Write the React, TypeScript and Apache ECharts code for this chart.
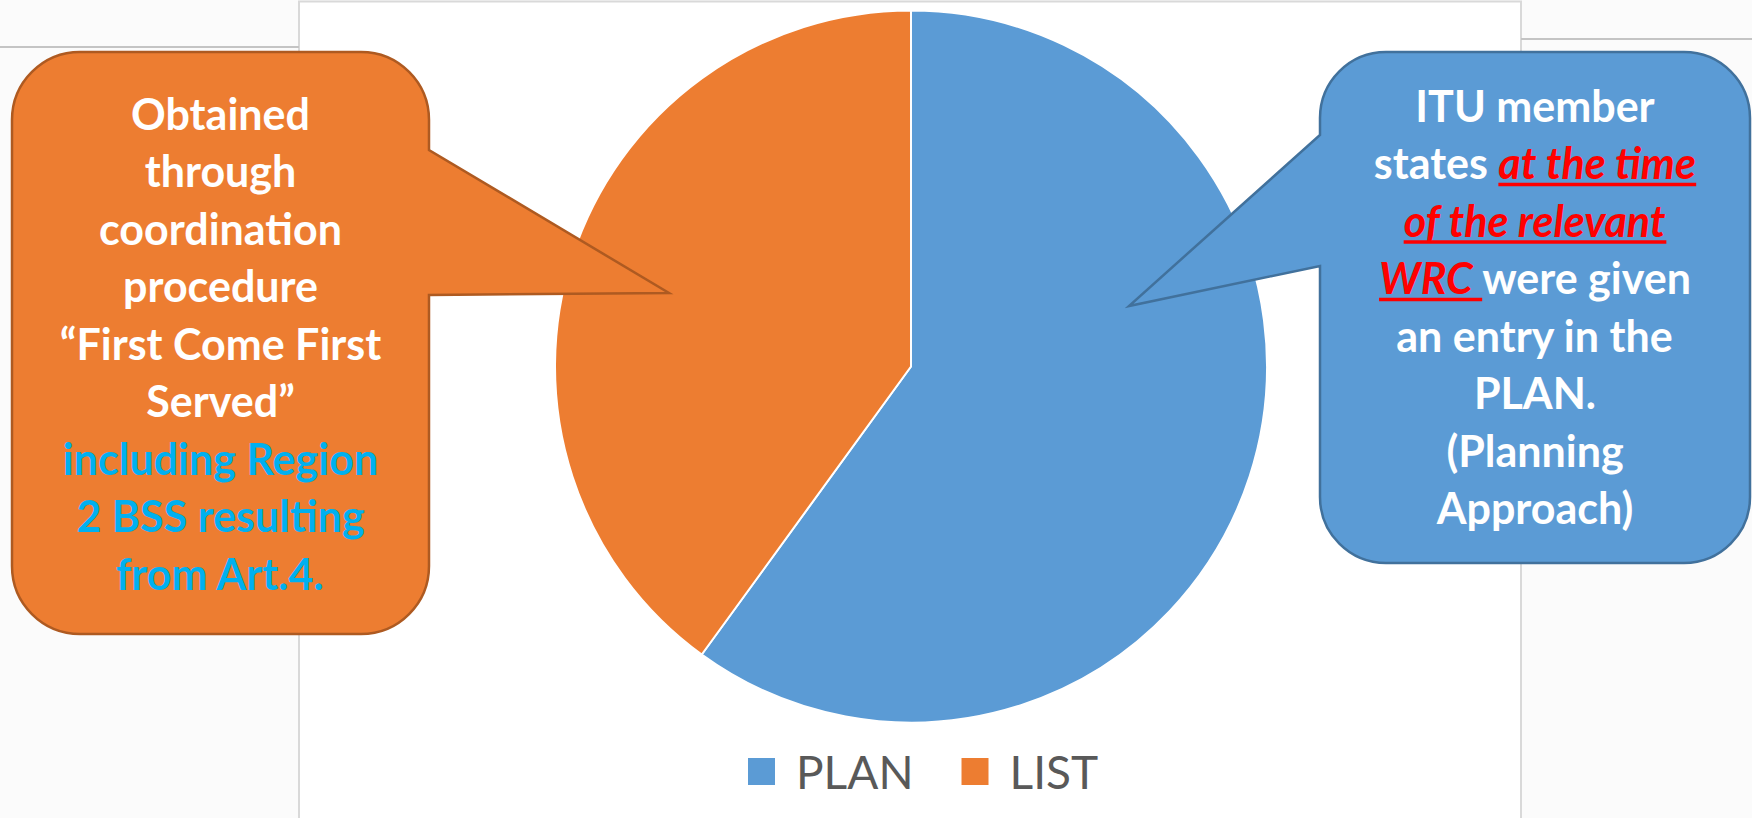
import React, { useEffect, useRef } from 'react';
import * as echarts from 'echarts';

// ---- data ----
const categories = ['PLAN', 'LIST'];
const shares = [60, 40];
const sliceColors = ['#5B9BD5', '#ED7D31'];

type Seg = { t: string; c: string; i?: boolean; u?: boolean };
const WHITE = '#FFFFFF';
const CYAN = '#00B0F0';
const RED = '#FF0000';

const leftLines: Seg[][] = [
  [{ t: 'Obtained', c: WHITE }],
  [{ t: 'through', c: WHITE }],
  [{ t: 'coordination', c: WHITE }],
  [{ t: 'procedure', c: WHITE }],
  [{ t: '\u201CFirst Come First', c: WHITE }],
  [{ t: 'Served\u201D', c: WHITE }],
  [{ t: 'including Region', c: CYAN }],
  [{ t: '2 BSS resulting', c: CYAN }],
  [{ t: 'from Art.4.', c: CYAN }],
];

const rightLines: Seg[][] = [
  [{ t: 'ITU member', c: WHITE }],
  [{ t: 'states ', c: WHITE }, { t: 'at the time', c: RED, i: true, u: true }],
  [{ t: 'of the relevant', c: RED, i: true, u: true }],
  [{ t: 'WRC ', c: RED, i: true, u: true }, { t: 'were given', c: WHITE }],
  [{ t: 'an entry in the', c: WHITE }],
  [{ t: 'PLAN.', c: WHITE }],
  [{ t: '(Planning', c: WHITE }],
  [{ t: 'Approach)', c: WHITE }],
];

// ---- layout ----
const LB = { x0: 12, x1: 429, y0: 52, y1: 634, r: 68, pTop: 150, tipX: 669, tipY: 293, pBot: 295 };
const RB = { x0: 1320, x1: 1750, y0: 52, y1: 563, r: 66, pTop: 135, tipX: 1129, tipY: 306, pBot: 266 };

const leftPath = (() => {
  const { x0, x1, y0, y1, r, pTop, tipX, tipY, pBot } = LB;
  return `M${x0 + r} ${y0} L${x1 - r} ${y0} A${r} ${r} 0 0 1 ${x1} ${y0 + r} L${x1} ${pTop} L${tipX} ${tipY} L${x1} ${pBot} L${x1} ${y1 - r} A${r} ${r} 0 0 1 ${x1 - r} ${y1} L${x0 + r} ${y1} A${r} ${r} 0 0 1 ${x0} ${y1 - r} L${x0} ${y0 + r} A${r} ${r} 0 0 1 ${x0 + r} ${y0} Z`;
})();
const rightPath = (() => {
  const { x0, x1, y0, y1, r, pTop, tipX, tipY, pBot } = RB;
  return `M${x0 + r} ${y0} L${x1 - r} ${y0} A${r} ${r} 0 0 1 ${x1} ${y0 + r} L${x1} ${y1 - r} A${r} ${r} 0 0 1 ${x1 - r} ${y1} L${x0 + r} ${y1} A${r} ${r} 0 0 1 ${x0} ${y1 - r} L${x0} ${pBot} L${tipX} ${tipY} L${x0} ${pTop} L${x0} ${y0 + r} A${r} ${r} 0 0 1 ${x0 + r} ${y0} Z`;
})();

echarts.graphic.registerShape('calloutLeft', echarts.graphic.extendPath(leftPath, {}));
echarts.graphic.registerShape('calloutRight', echarts.graphic.extendPath(rightPath, {}));

const FONT = 'Lato';
const FS = 43;
const LH = 57.5;

function buildText(lines: Seg[][], cx: number, firstBaseline: number) {
  const canvas = document.createElement('canvas');
  const ctx = canvas.getContext('2d') as CanvasRenderingContext2D;
  const els: any[] = [];
  lines.forEach((segs, k) => {
    const base = firstBaseline + k * LH;
    const widths = segs.map((s) => {
      ctx.font = `${s.i ? 'italic ' : ''}bold ${FS}px ${FONT}`;
      return ctx.measureText(s.t).width;
    });
    const total = widths.reduce((a, b) => a + b, 0);
    let x = cx - total / 2;
    segs.forEach((s, j) => {
      els.push({
        type: 'text',
        x,
        y: base - 0.387 * FS,
        z: 12,
        style: {
          text: s.t,
          fill: s.c,
          fontFamily: FONT,
          fontSize: FS,
          fontWeight: 'bold',
          fontStyle: s.i ? 'italic' : 'normal',
          textAlign: 'left',
          textVerticalAlign: 'middle',
        },
      });
      if (s.u) {
        els.push({
          type: 'line',
          z: 12,
          shape: { x1: x, y1: base + 5, x2: x + widths[j], y2: base + 5 },
          style: { stroke: s.c, lineWidth: 3.5 },
        });
      }
      x += widths[j];
    });
  });
  return els;
}

export default function App() {
  const ref = useRef<HTMLDivElement>(null);
  useEffect(() => {
    if (!ref.current) return;
    const chart = echarts.init(ref.current, undefined, { renderer: 'svg' });
    const option: any = {
      animation: false,
      backgroundColor: '#FBFBFB',
      legend: {
        data: categories,
        left: 746,
        top: 748.5,
        orient: 'horizontal',
        icon: 'rect',
        itemWidth: 29,
        itemHeight: 29,
        itemGap: 46,
        padding: 0,
        selectedMode: false,
        textStyle: {
          fontFamily: FONT,
          fontSize: 46,
          lineHeight: 46,
          color: '#595959',
          padding: [0, 0, 0, 15],
        },
      },
      series: [
        {
          type: 'pie',
          center: [911, 366.5],
          radius: 356,
          startAngle: 90,
          clockwise: true,
          z: 2,
          label: { show: false },
          labelLine: { show: false },
          emphasis: { disabled: true },
          itemStyle: { borderColor: '#FFFFFF', borderWidth: 2 },
          data: categories.map((n, i) => ({
            name: n,
            value: shares[i],
            itemStyle: { color: sliceColors[i] },
          })),
        },
      ],
      graphic: [
        {
          type: 'rect',
          z: 0,
          shape: { x: 299, y: 1.5, width: 1222, height: 840 },
          style: { fill: '#FFFFFF', stroke: '#D9D9D9', lineWidth: 2 },
        },
        {
          type: 'line',
          z: 0,
          shape: { x1: 0, y1: 47, x2: 299, y2: 47 },
          style: { stroke: '#C4C4C4', lineWidth: 2 },
        },
        {
          type: 'line',
          z: 0,
          shape: { x1: 1521, y1: 39, x2: 1752, y2: 39 },
          style: { stroke: '#C4C4C4', lineWidth: 2 },
        },
        {
          type: 'calloutLeft',
          x: 0,
          y: 0,
          scaleX: 1,
          scaleY: 1,
          z: 10,
          style: { fill: '#ED7D31', stroke: '#AE5A21', lineWidth: 2.5 },
        },
        {
          type: 'calloutRight',
          x: 0,
          y: 0,
          scaleX: 1,
          scaleY: 1,
          z: 10,
          style: { fill: '#5B9BD5', stroke: '#41719C', lineWidth: 2.5 },
        },
        ...buildText(leftLines, (LB.x0 + LB.x1) / 2, 130),
        ...buildText(rightLines, (RB.x0 + RB.x1) / 2, 122),
      ],
    };
    chart.setOption(option);
    return () => chart.dispose();
  }, []);
  return (
    <div
      ref={ref}
      style={{ position: 'fixed', left: 0, top: 0, width: 1752, height: 818 }}
    />
  );
}
